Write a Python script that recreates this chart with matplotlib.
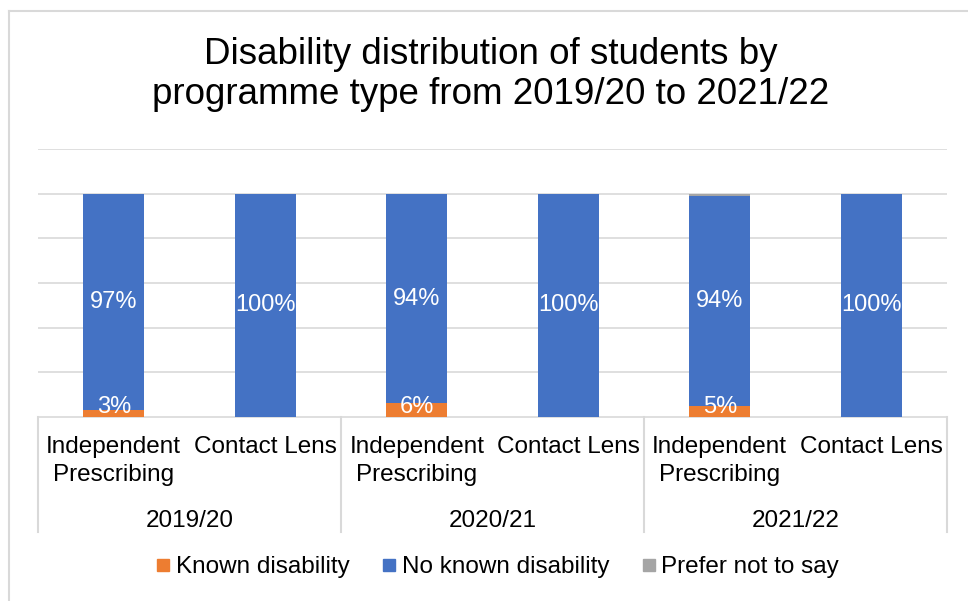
import numpy as np
import matplotlib
matplotlib.use("Agg")
import matplotlib.pyplot as plt
from matplotlib.lines import Line2D
from matplotlib.transforms import blended_transform_factory

plt.rcParams["font.family"] = ["Liberation Sans", "DejaVu Sans"]

# ── Data (percent of students) ─────────────────────────────
years = ["2019/20", "2020/21", "2021/22"]
programmes = ["Independent\nPrescribing", "Contact Lens"]
known = [3, 0, 6, 0, 5, 0]
no_known = [97, 100, 94, 100, 94, 100]
prefer_not = [0, 0, 0, 0, 1, 0]

series_names = ["Known disability", "No known disability", "Prefer not to say"]
colors = ["#ED7D31", "#4472C4", "#A5A5A5"]
grid_col = "#D9D9D9"

# ── Figure and axes ────────────────────────────────────────
W, H = 968, 601
fig = plt.figure(figsize=(W / 100, H / 100), dpi=100)
ax = fig.add_axes([38 / W, 1 - 416.7 / H, 909 / W, 267.4 / H])

x = np.arange(len(known))
bar_w = 0.40
bottoms = np.zeros(len(x))
for vals, col in zip([known, no_known, prefer_not], colors):
    vals = np.array(vals, dtype=float)
    ax.bar(x, vals, bar_w, bottom=bottoms, color=col, zorder=3)
    for xi, v, b in zip(x, vals, bottoms):
        if v >= 2:
            # thin segments: keep the label from sinking below the baseline
            ypos = max(b + v / 2, b + 4.5)
            ax.text(xi, ypos, f"{v:.0f}%", ha="center", va="center",
                    color="white", fontsize=17, zorder=4)
    bottoms += vals

ax.set_xlim(-0.5, len(x) - 0.5)
ax.set_ylim(0, 120)
ax.set_yticks(np.arange(20, 121, 20))
ax.yaxis.grid(True, color=grid_col, lw=1.2, zorder=0)
ax.tick_params(left=False, labelleft=False, bottom=False, labelbottom=False)
for side in ["left", "right", "top"]:
    ax.spines[side].set_visible(False)
ax.spines["bottom"].set_color(grid_col)
ax.spines["bottom"].set_linewidth(1.2)

# ── Two-level category axis ────────────────────────────────
tr = blended_transform_factory(ax.transData, ax.transAxes)
for i, xi in enumerate(x):
    label = programmes[i % 2]
    ax.text(xi, -0.113, label.split("\n")[0], transform=tr, ha="center",
            va="center", fontsize=17.5)
    if "\n" in label:
        ax.text(xi, -0.218, label.split("\n")[1], transform=tr, ha="center",
                va="center", fontsize=17.5)
for g, yr in enumerate(years):
    ax.text(2 * g + 0.5, -0.39, yr, transform=tr, ha="center", va="center",
            fontsize=17.5)
for sep in np.arange(-0.5, len(x), 2):
    ax.add_line(Line2D([sep, sep], [0, -0.431], transform=tr, color=grid_col,
                       lw=1.5, clip_on=False))

# ── Title ──────────────────────────────────────────────────
fig.text(491 / W, 1 - 74.5 / H,
         "Disability distribution of students by\nprogramme type from 2019/20 to 2021/22",
         ha="center", va="center", fontsize=26.5, linespacing=1.2)

# ── Legend ─────────────────────────────────────────────────
handles = [Line2D([], [], marker="s", ls="", color=c, markersize=8) for c in colors]
fig.legend(handles, series_names, loc="center", bbox_to_anchor=(0.514, 1 - 567 / H),
           ncol=3, frameon=False, fontsize=17.5, handlelength=0.6,
           handletextpad=0.2, columnspacing=1.35)

# ── Chart frame ────────────────────────────────────────────
fig.add_artist(Line2D([9 / W, 9 / W], [0, 1 - 11 / H], transform=fig.transFigure,
                      color=grid_col, lw=1.5))
fig.add_artist(Line2D([9 / W, 1], [1 - 11 / H, 1 - 11 / H], transform=fig.transFigure,
                      color=grid_col, lw=1.5))

fig.savefig("out.png", dpi=100)
